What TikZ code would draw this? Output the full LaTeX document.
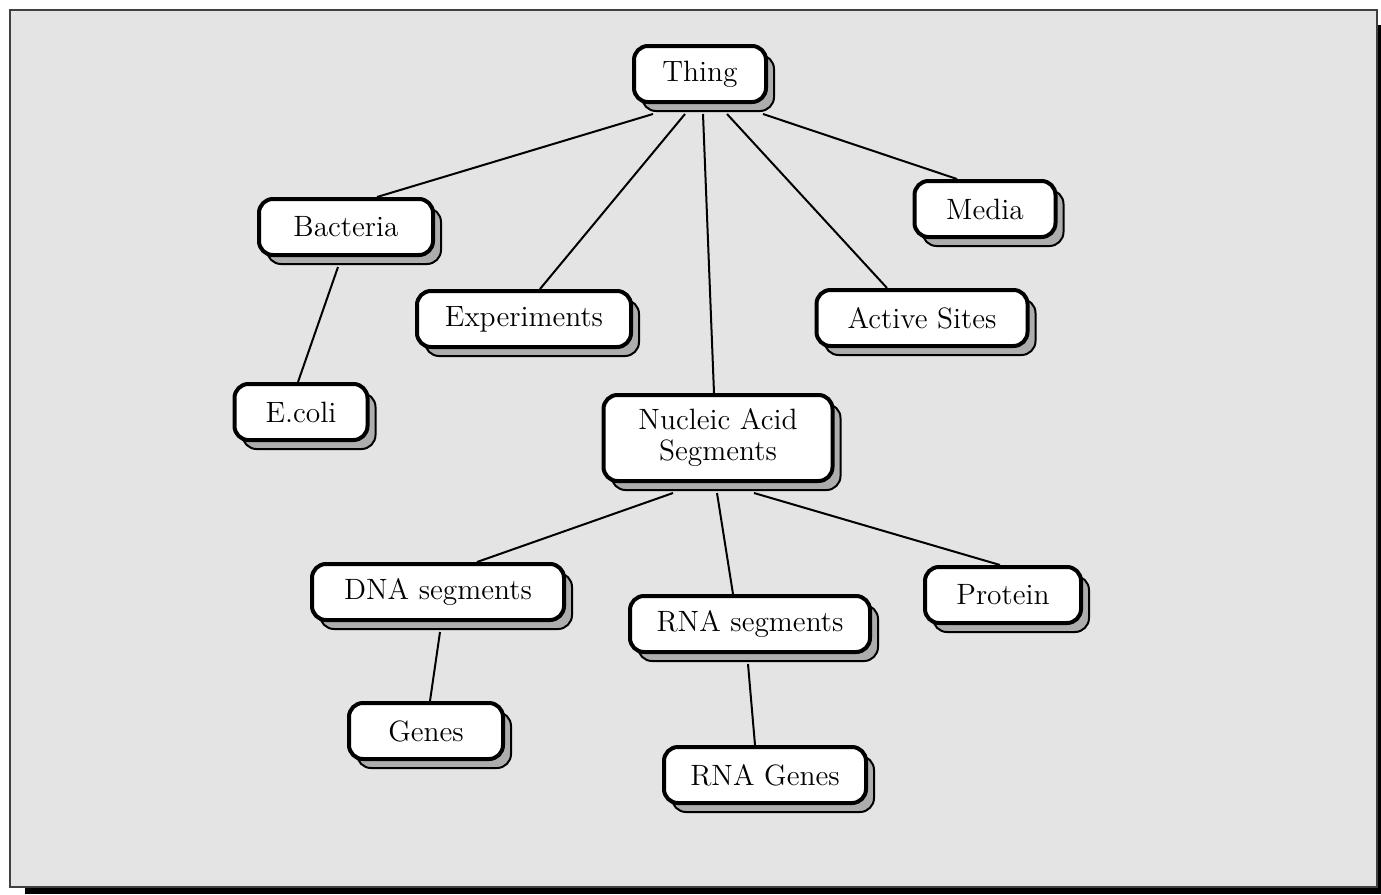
\documentclass[tikz,border=0pt]{standalone}
\usetikzlibrary{shadows,calc}
\pgfdeclarelayer{background}
\pgfdeclarelayer{edges}
\pgfsetlayers{background,edges,main}
\definecolor{pagegray}{HTML}{E4E4E4}
\tikzset{
  concept/.style={draw=black, line width=2pt, rounded corners=7pt, fill=white,
    minimum height=28pt, inner sep=2pt, align=center,
    font=\fontsize{14.7}{15.5}\selectfont,
    drop shadow={shadow xshift=4pt, shadow yshift=-4.5pt, opacity=1,
      fill=black!32, draw=black, line width=1pt}},
  link/.style={line width=1pt}
}
\begin{document}
\begin{tikzpicture}[x=0.5pt,y=-0.5pt]
\useasboundingbox (0,0) rectangle (1381,894);
\begin{pgfonlayer}{background}
\fill[black] (25,25) rectangle (1381,894);
\draw[fill=pagegray, draw=black!75, line width=1pt] (10,10) rectangle (1377,887);
\end{pgfonlayer}

\node[concept, minimum width=66pt] (thing) at (700,74) {Thing};
\node[concept, minimum width=87pt] (bacteria) at (346,227) {Bacteria};
\node[concept, minimum width=70.5pt] (media) at (985,209) {Media};
\node[concept, minimum width=107pt] (experiments) at (524,319) {Experiments};
\node[concept, minimum width=105.5pt] (active) at (922,318) {Active Sites};
\node[concept, minimum width=66.5pt] (ecoli) at (301,412) {E.coli};
\node[concept, minimum width=114.5pt, minimum height=43pt] (nucleic) at (718,438) {Nucleic Acid\\Segments};
\node[concept, minimum width=126pt] (dna) at (438,592) {DNA segments};
\node[concept, minimum width=120pt] (rnaseg) at (750,624) {RNA segments};
\node[concept, minimum width=78pt] (protein) at (1003,595) {Protein};
\node[concept, minimum width=77pt] (genes) at (426,731) {Genes};
\node[concept, minimum width=101pt] (rnagenes) at (765,775) {RNA Genes};

\begin{pgfonlayer}{edges}
\draw[link] ($(thing.south)+(-47,10)$) -- ($(bacteria.north)+(31,0)$);
\draw[link] ($(thing.south)+(-15,10)$) -- ($(experiments.north)+(16,0)$);
\draw[link] ($(thing.south)+(3,10)$) -- ($(nucleic.north)+(-4,0)$);
\draw[link] ($(thing.south)+(27,10)$) -- ($(active.north)+(-35,0)$);
\draw[link] ($(thing.south)+(63,10)$) -- ($(media.north)+(-28,0)$);
\draw[link] ($(bacteria.south)+(-8,10)$) -- ($(ecoli.north)+(-3,0)$);
\draw[link] ($(nucleic.south)+(-45,10)$) -- ($(dna.north)+(39,0)$);
\draw[link] ($(nucleic.south)+(-1,10)$) -- ($(rnaseg.north)+(-17,0)$);
\draw[link] ($(nucleic.south)+(36,10)$) -- ($(protein.north)+(-3,0)$);
\draw[link] ($(dna.south)+(2,10)$) -- ($(genes.north)+(4,0)$);
\draw[link] ($(rnaseg.south)+(-2,10)$) -- ($(rnagenes.north)+(-10,0)$);
\end{pgfonlayer}
\end{tikzpicture}
\end{document}
